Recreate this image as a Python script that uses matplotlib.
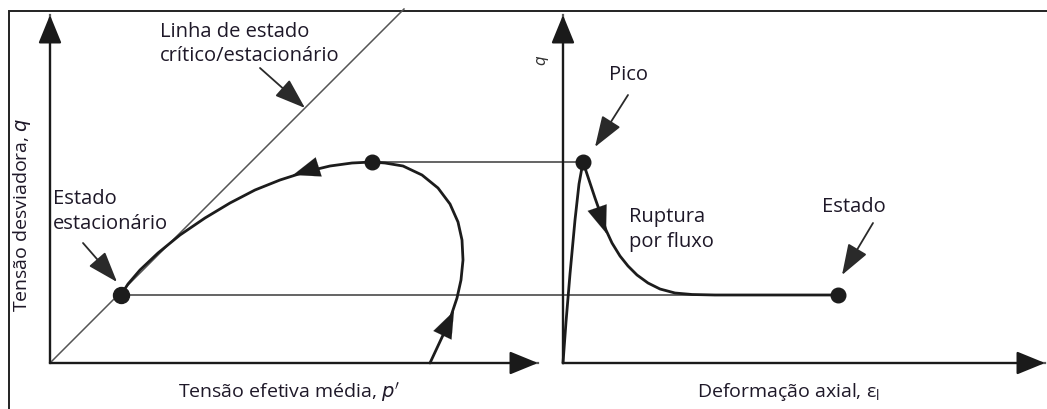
import matplotlib
matplotlib.use("Agg")
import matplotlib.pyplot as plt
import numpy as np

W, H = 1047, 409

# --- diagram geometry (canvas units, y grows downward) ---
# left panel: stress path in q - p' space
left_origin = (50, 363)
left_x_end = 538
left_y_end = 15
ssl_x = [50, 404]            # critical / steady state line
ssl_y = [363, 9]
steady_pt = (121, 295)       # steady state point
peak_pt_left = (372, 162)    # peak of undrained path
path_x = [430, 437, 444, 451, 457, 461, 463, 462, 458, 450, 438, 422, 403, 385, 372,
          352, 330, 305, 280, 255, 230, 205, 180, 158, 140, 128, 121]
path_y = [363, 348, 333, 316, 298, 280, 260, 240, 222, 204, 188, 175, 166, 163, 162,
          163, 166, 172, 180, 190, 203, 218, 235, 253, 270, 284, 295]

# right panel: q - axial strain
right_origin = (563, 363)
right_x_end = 1045
right_y_end = 15
peak_pt_right = (583, 162)
end_pt = (838, 295)
curve_x = [563, 566, 570, 575, 579, 583, 589, 595, 601, 606, 612, 620, 628, 637, 648,
           660, 675, 692, 715, 760, 838]
curve_y = [363, 322, 274, 220, 184, 162, 180, 198, 215, 230, 243, 256, 266, 275, 283,
           289, 293, 294.5, 295, 295, 295]

ink = "#1c1c1c"
axis_grey = "#5a5a5a"
txt_col = "#1e1828"
font = ["Open Sans", "DejaVu Sans"]
fs = 14.5

fig = plt.figure(figsize=(W / 100, H / 100), dpi=100)
ax = fig.add_axes([0, 0, 1, 1])
ax.set_xlim(0, W)
ax.set_ylim(H, 0)
ax.axis("off")

# outer frame (left and top edges)
ax.plot([9, 9, W], [H, 11, 11], color="#222222", lw=1.4, solid_joinstyle="miter")


def axis_arrow(x0, y0, x1, y1):
    ax.annotate("", xy=(x1, y1), xytext=(x0, y0),
                arrowprops=dict(arrowstyle="-|>,head_length=1.1,head_width=0.45",
                                color=axis_grey, lw=1.6, shrinkA=0, shrinkB=0,
                                mutation_scale=16, fc="#1a1a1a", ec="#1a1a1a"))
    ax.plot([x0, x1], [y0, y1], color=axis_grey, lw=1.6, zorder=1)


# axes of both panels
axis_arrow(left_origin[0], left_origin[1], left_x_end, left_origin[1])
axis_arrow(left_origin[0], left_origin[1], left_origin[0], left_y_end)
axis_arrow(right_origin[0], right_origin[1], right_x_end, right_origin[1])
axis_arrow(right_origin[0], right_origin[1], right_origin[0], right_y_end)

# critical state line
ax.plot(ssl_x, ssl_y, color="#555555", lw=1.1, zorder=2)

# horizontal links between panels
ax.plot([peak_pt_left[0], peak_pt_right[0]], [peak_pt_left[1], peak_pt_right[1]],
        color="#4a4a4a", lw=1.2, zorder=2)
ax.plot([steady_pt[0], end_pt[0]], [steady_pt[1], end_pt[1]],
        color="#4a4a4a", lw=1.2, zorder=2)

# undrained stress path and stress-strain curve
ax.plot(path_x, path_y, color=ink, lw=2.0, zorder=3, solid_capstyle="round")
ax.plot(curve_x, curve_y, color=ink, lw=2.0, zorder=3, solid_capstyle="round")


def path_arrow(tip, back):
    ax.annotate("", xy=tip, xytext=back,
                arrowprops=dict(arrowstyle="-|>,head_length=1.2,head_width=0.45",
                                color=ink, lw=0.1, shrinkA=0, shrinkB=0,
                                mutation_scale=16), zorder=4)


path_arrow((454, 311), (444, 332))
path_arrow((293, 175), (312, 169))
path_arrow((606, 233), (598, 210))

# state points
for (px, py), ms in [(steady_pt, 11.5), (peak_pt_left, 10.5),
                     (peak_pt_right, 10.5), (end_pt, 10.5)]:
    ax.plot(px, py, "o", color=ink, ms=ms, zorder=5)


def pointer(x0, y0, x1, y1):
    ax.annotate("", xy=(x1, y1), xytext=(x0, y0),
                arrowprops=dict(arrowstyle="-|>,head_length=1.2,head_width=0.42",
                                color="#2a2a2a", lw=1.3, shrinkA=0, shrinkB=0,
                                mutation_scale=16), zorder=4)


pointer(260, 68, 305, 108)
pointer(83, 243, 117, 282)
pointer(628, 95, 595, 147)
pointer(873, 223, 842, 275)

# labels
def label(x, y, s, **kw):
    ax.text(x, y, s, color=txt_col, family=font, fontsize=fs, va="center", **kw)


label(160, 32, "Linha de estado")
label(160, 56, "crítico/estacionário")
label(53, 199, "Estado")
label(53, 224, "estacionário")
label(609, 75, "Pico")
label(629, 217, "Ruptura")
label(629, 242, "por fluxo")
label(822, 207, "Estado")

ax.text(289, 392, "Tensão efetiva média, $\\it{p'}$", color=txt_col, family=font,
        fontsize=14, ha="center", va="center")
ax.text(788, 392, "Deformação axial, ε$_\\mathregular{l}$", color=txt_col, family=font,
        fontsize=14, ha="center", va="center")
ax.text(22, 215, "Tensão desviadora, $\\it{q}$", color=txt_col, family=font,
        fontsize=14, ha="center", va="center", rotation=90)
ax.text(543, 60, "$\\it{q}$", color="#333333", family=font, fontsize=11,
        ha="center", va="center", rotation=90)

fig.savefig("out.png", dpi=100)
